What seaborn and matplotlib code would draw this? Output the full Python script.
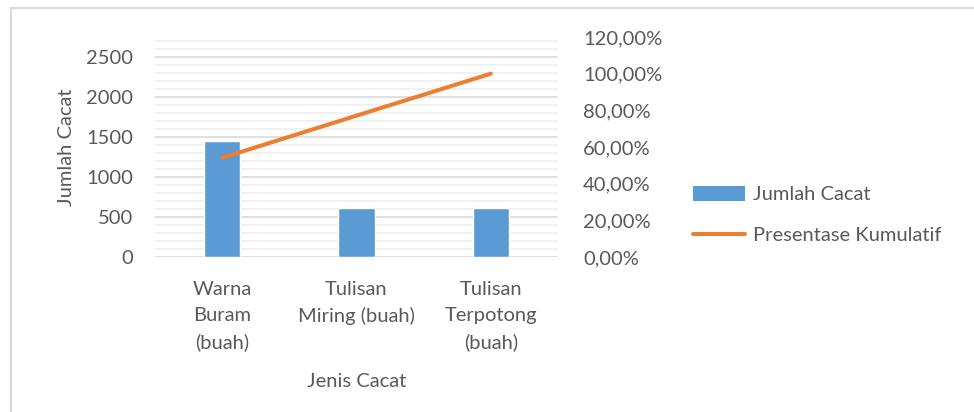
"""Pareto chart: jumlah cacat per jenis cacat with cumulative percentage."""

import numpy as np
import pandas as pd
import matplotlib
matplotlib.use("Agg")
import matplotlib.pyplot as plt
from matplotlib.lines import Line2D
from matplotlib.ticker import FuncFormatter, MultipleLocator
import seaborn as sns

categories = ["Warna\nBuram\n(buah)", "Tulisan\nMiring (buah)", "Tulisan\nTerpotong\n(buah)"]
jumlah_cacat = [1445, 610, 610]
kumulatif = [0.541, 0.771, 1.00]

BLUE = "#5B9BD5"
ORANGE = "#ED7D31"
TXT = "#595959"
FS = 14.5

sns.set_theme(style="white")
plt.rcParams["font.family"] = ["Lato", "DejaVu Sans"]

df = pd.DataFrame({"jenis": categories, "jumlah": jumlah_cacat, "kum": kumulatif})
df["pos"] = np.arange(len(df))

fig = plt.figure(figsize=(9.74, 4.12), dpi=100)
ax = fig.add_axes([155 / 974, 155 / 412, 403 / 974, 220 / 412])
ax2 = ax.twinx()

sns.barplot(data=df, x="pos", y="jumlah", color=BLUE, width=0.27,
            saturation=1, ax=ax, zorder=3)
sns.lineplot(data=df, x="pos", y="kum", color=ORANGE, linewidth=2.9,
             ax=ax2, sort=False)
ax2.lines[0].set_solid_capstyle("round")

# left axis
ax.set_xlim(-0.5, 2.5)
ax.set_ylim(0, 2745)
ax.yaxis.set_major_locator(MultipleLocator(500))
ax.yaxis.set_minor_locator(MultipleLocator(100))
ax.grid(which="major", axis="y", color="#d9d9d9", linewidth=1.2, zorder=0)
ax.grid(which="minor", axis="y", color="#efefef", linewidth=1.2, zorder=0)
ax.set_axisbelow(True)
ax.set_xticks(df["pos"])
ax.set_xticklabels(categories, linespacing=1.65)
ax.tick_params(axis="x", length=0, pad=17, labelsize=FS, labelcolor=TXT)
ax.tick_params(axis="y", which="both", length=0, pad=16, labelsize=FS, labelcolor=TXT)
ax.set_xlabel("Jenis Cacat", fontsize=FS, color=TXT, labelpad=15.5)
ax.set_ylabel("Jumlah Cacat", fontsize=FS, color=TXT, labelpad=8)

# right axis
ax2.set_ylim(0, 1.2)
ax2.yaxis.set_major_locator(MultipleLocator(0.2))
ax2.yaxis.set_major_formatter(FuncFormatter(lambda v, p: f"{v * 100:.2f}%".replace(".", ",")))
ax2.tick_params(axis="y", length=0, pad=18, labelsize=FS, labelcolor=TXT)
ax2.set_ylabel("")
ax2.grid(False)

for a in (ax, ax2):
    for s in a.spines.values():
        s.set_visible(False)

handles = [
    plt.Rectangle((0, 0), 1, 1, facecolor=BLUE, edgecolor="none"),
    Line2D([0], [0], color=ORANGE, linewidth=2.9, solid_capstyle="round"),
]
fig.legend(handles, ["Jumlah Cacat", "Presentase Kumulatif"],
           loc="upper left", bbox_to_anchor=(693 / 974, 1 - 186 / 412),
           frameon=False, borderpad=0, borderaxespad=0, fontsize=FS,
           handlelength=2.6, handleheight=0.75, handletextpad=0.4,
           labelspacing=1.15, labelcolor=TXT)

# outer chart border (top and left visible)
fig.add_artist(Line2D([11 / 974, 1], [1 - 8 / 412, 1 - 8 / 412],
                      transform=fig.transFigure, color="#d9d9d9", linewidth=1.5))
fig.add_artist(Line2D([11 / 974, 11 / 974], [0, 1 - 8 / 412],
                      transform=fig.transFigure, color="#d9d9d9", linewidth=1.5))

fig.savefig("out.png", dpi=100)
